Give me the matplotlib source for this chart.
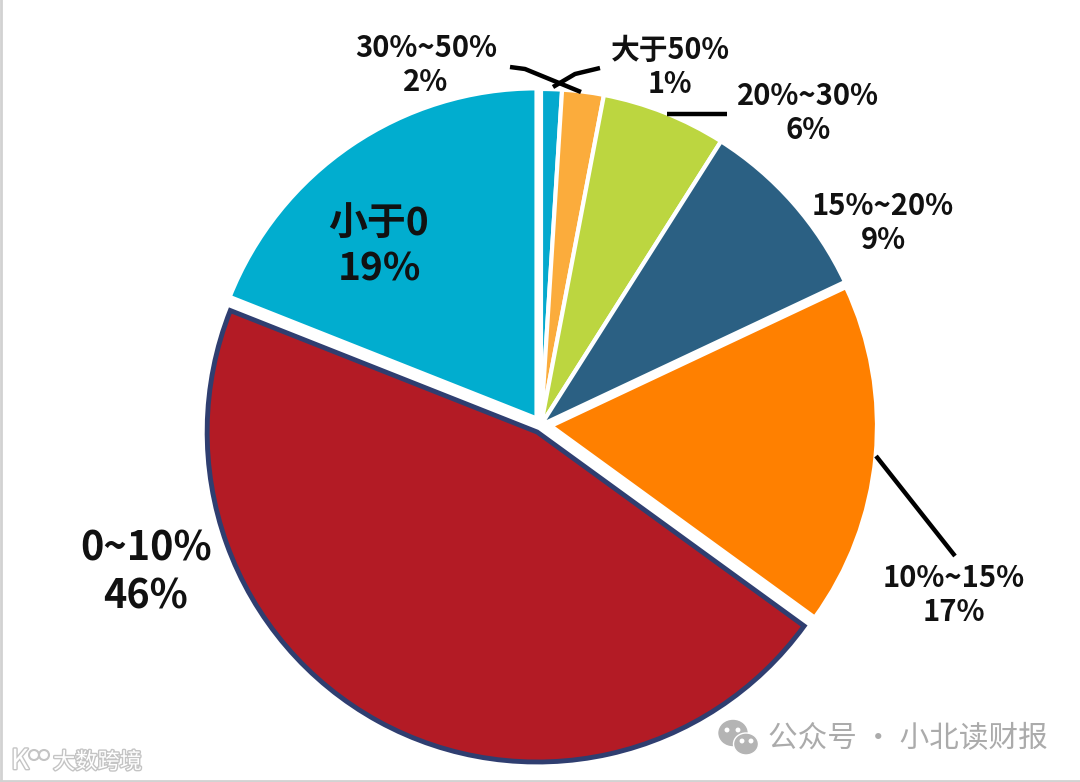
import matplotlib
matplotlib.use("Agg")
import matplotlib.pyplot as plt
import matplotlib.patheffects as pe
from matplotlib.patches import Ellipse

plt.rcParams['font.family'] = ['Noto Sans CJK SC', 'DejaVu Sans']

labels = ["大于50%", "30%~50%", "20%~30%", "15%~20%", "10%~15%", "0~10%", "小于0"]
values = [1, 2, 6, 9, 17, 46, 19]
colors = ["#05A9CE", "#FBAC3C", "#BCD640", "#2B6083", "#FF8000", "#B31B25", "#01ADCF"]
# pie() takes explode in data units, so these are pixels here
explode = [0, 0, 0, 0, 10, 8, 8]
radii = [336, 336, 336, 336, 326, 330, 330]

H = 782
fig = plt.figure(figsize=(10.8, 7.82), dpi=100, facecolor="white")
ax = fig.add_axes([0, 0, 1, 1])

wedges, _ = ax.pie(values, colors=colors, explode=explode, startangle=90, counterclock=False,
                   radius=336, center=(541, H - 425), frame=False,
                   wedgeprops={"edgecolor": "white", "linewidth": 3})
for w, r in zip(wedges, radii):
    w.set_radius(r)
wedges[5].set_edgecolor("#2F3E70")
wedges[5].set_linewidth(3.5)
wedges[5].set_zorder(3)
ax.set_xlim(0, 1080)
ax.set_ylim(0, H)
ax.set_aspect("auto")
ax.axis("off")

# labels: x, y, size
label_pos = {
    "大于50%": (670, 68, 20.7),
    "30%~50%": (426, 66, 21),
    "20%~30%": (808, 114, 21),
    "15%~20%": (883, 224, 21),
    "10%~15%": (954, 596, 21),
    "0~10%": (146, 574, 28.5),
    "小于0": (379, 247, 28),
}
for lab, val in zip(labels, values):
    x, y, size = label_pos[lab]
    ax.text(x, H - y + 1, f"{lab}\n{val}%", ha="center", va="center", fontsize=size,
            fontweight="bold", color="#111111", linespacing=1.2, zorder=5)

# leader lines
leaders = [
    ([510, 525, 581], [67, 69, 92]),
    ([553, 575, 600], [87, 74, 68]),
    ([667, 727], [114, 114]),
    ([876, 955], [456, 556]),
]
for xs, ys in leaders:
    ax.plot(xs, [H - y for y in ys], color="black", lw=3.2, solid_capstyle="butt", zorder=6)

# watermark right
ax.text(768, H - 739, "公众号 · 小北读财报", fontsize=21.3, color="#ABABAB", va="center", ha="left", zorder=6)
ax.add_patch(Ellipse((733, H - 733), 28, 25, color="#B4B4B4", zorder=6))
ax.add_patch(Ellipse((746, H - 744), 25, 22, fc="#B4B4B4", ec="white", lw=1, zorder=7))
for dot_x, dot_y in [(727, 730), (738, 730), (742, 741), (751, 741)]:
    ax.add_patch(Ellipse((dot_x, H - dot_y), 3.5, 3.5, color="white", zorder=8))

# watermark left
shadow = [pe.withStroke(linewidth=2, foreground="#C4C4C4")]
ax.text(53, H - 762, "大数跨境", fontsize=16, color="white", va="center", ha="left", zorder=6, path_effects=shadow)
ax.text(11, H - 761, "K", fontsize=20, color="white", va="center", ha="left", zorder=6, path_effects=shadow)
for cx, cy in [(34, 755), (44, 755)]:
    ax.add_patch(Ellipse((cx, H - cy), 10, 10, fc="white", ec="#C4C4C4", lw=1.5, zorder=6))

# image border
ax.plot([1, 1], [0, H], color="#D2D2D2", lw=2, zorder=9)
ax.plot([0, 1080], [1, 1], color="#D2D2D2", lw=2, zorder=9)

fig.savefig("out.png", dpi=100)
